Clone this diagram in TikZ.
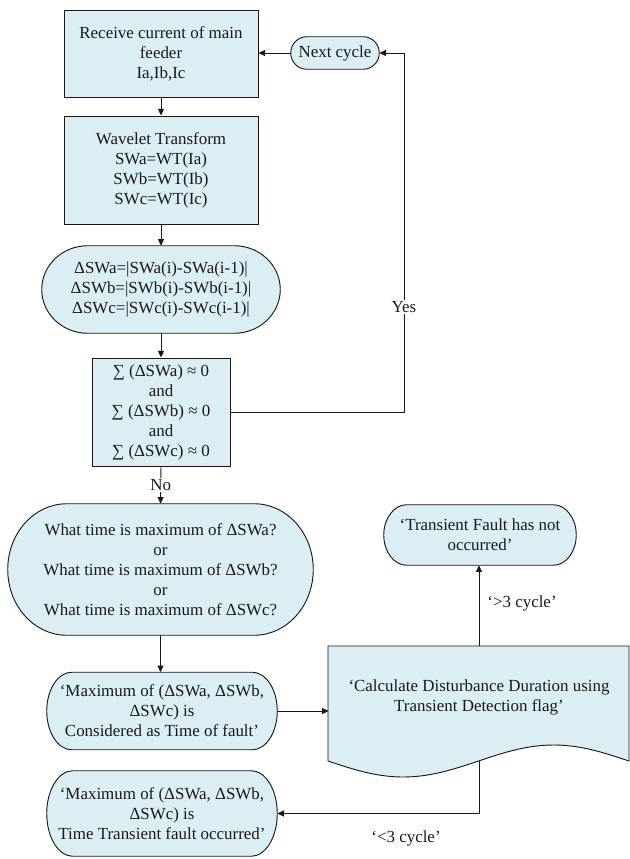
\documentclass[tikz,border=0pt]{standalone}
\usepackage{fontspec}
\setmainfont{Liberation Serif}
\usetikzlibrary{arrows.meta,calc}
\pgfdeclarelayer{bg}
\pgfsetlayers{bg,main}
\definecolor{boxfill}{RGB}{219,238,244}
\definecolor{ink}{RGB}{25,25,25}

% terminator outline with elliptic ends, drawn around a named node
\newcommand\termshape[2]{%
  \path[shapeline] let \p1=(#1.north west), \p2=(#1.south east),
      \n1={0.5*(\y1-\y2)} in
    (\x1+#2*0.75pt,\y1) -- (\x2-#2*0.75pt,\y1)
    arc[start angle=90,end angle=-90,x radius=#2*0.75pt,y radius=\n1]
    -- (\x1+#2*0.75pt,\y2)
    arc[start angle=270,end angle=90,x radius=#2*0.75pt,y radius=\n1]
    -- cycle;}

\tikzset{
  txt/.style={font=\fontsize{12.7}{15}\selectfont, text=ink, align=center, inner sep=0pt},
  procbox/.style={txt, rectangle, draw=ink, fill=boxfill, line width=0.7pt},
  termbox/.style={txt, rectangle},
  shapeline/.style={draw=ink, fill=boxfill, line width=0.7pt},
  arr/.style={draw=ink, line width=0.7pt, -{Triangle[length=5pt,width=4.5pt]}},
  lbl/.style={txt, fill=white, inner sep=1pt},
  freelbl/.style={txt}
}

\begin{document}
\begin{tikzpicture}[x=0.75pt, y=-0.75pt]
\useasboundingbox (0,0) rectangle (629,859);

% process boxes
\node[procbox, minimum width=194*0.75pt, minimum height=87*0.75pt] (box1) at (161,53.5)
  {Receive current of main\\feeder\\Ia,Ib,Ic};
\node[procbox, minimum width=194*0.75pt, minimum height=108*0.75pt] (box2) at (161,170)
  {Wavelet Transform\\SWa=WT(Ia)\\SWb=WT(Ib)\\SWc=WT(Ic)};
\node[procbox, minimum width=138*0.75pt, minimum height=108*0.75pt] (dec) at (161,412)
  {∑ (ΔSWa) ≈ 0\\and\\∑ (ΔSWb) ≈ 0\\and\\∑ (ΔSWc) ≈ 0};

% terminator texts
\node[termbox, minimum width=88*0.75pt, minimum height=32*0.75pt] (next) at (335,53)
  {Next cycle};
\node[termbox, minimum width=238*0.75pt, minimum height=87*0.75pt] (st3) at (161,289.5)
  {ΔSWa=|SWa(i)-SWa(i-1)|\\ΔSWb=|SWb(i)-SWb(i-1)|\\ΔSWc=|SWc(i)-SWc(i-1)|};
\node[termbox, minimum width=305*0.75pt, minimum height=131*0.75pt] (st4) at (160.5,569.5)
  {What time is maximum of ΔSWa?\\or\\What time is maximum of ΔSWb?\\or\\What time is maximum of ΔSWc?};
\node[termbox, minimum width=230*0.75pt, minimum height=77*0.75pt] (st5) at (162,711)
  {‘Maximum of (ΔSWa, ΔSWb,\\ΔSWc) is\\Considered as Time of fault’};
\node[termbox, minimum width=230*0.75pt, minimum height=85*0.75pt] (st6) at (162,813.5)
  {‘Maximum of (ΔSWa, ΔSWb,\\ΔSWc) is\\Time Transient fault occurred’};
\node[termbox, minimum width=192*0.75pt, minimum height=60*0.75pt] (top) at (480,535)
  {‘Transient Fault has not\\occurred’};

% document shape text
\node[termbox, minimum width=300*0.75pt, minimum height=102*0.75pt] (doc) at (479,697)
  {‘Calculate Disturbance Duration using\\Transient Detection flag’};
\coordinate (docb) at (479,761);
\coordinate (ret) at (404,53);

\begin{pgfonlayer}{bg}
  \termshape{next}{16}
  \termshape{st3}{46}
  \termshape{st4}{59}
  \termshape{st5}{25}
  \termshape{st6}{26}
  \termshape{top}{23}
  % document outline with a wavy lower edge
  \path[shapeline] (629,646) -- (629,761)
    -- plot[domain=301:0, samples=80, smooth] ({328+\x},{761+16*sin(1.19601*\x)})
    -- (328,646) -- cycle;
\end{pgfonlayer}

% connectors
\draw[arr] (box1.south) -- (box2.north);
\draw[arr] (box2.south) -- (st3.north);
\draw[arr] (st3.south) -- (dec.north);
\draw[arr] (dec.south) -- node[lbl] (no) {No} (st4.north);
\draw[arr] (st4.south) -- (st4.south |- st5.north);
\draw[arr] (st5.east) -- (st5.east -| doc.west);
\draw[arr] (docb) |- (st6.east);
\draw[arr] (doc.north) -- (doc.north |- top.south);
\draw[arr] (dec.east) -| (ret) -- (next.east);
\draw[arr] (next.west) -- (next.west -| box1.east);

% connector labels
\node[lbl] (yes) at (404,307) {Yes};
\node[freelbl] (gt) at (522,603) {‘>3 cycle’};
\node[freelbl] (lt) at (406,838) {‘<3 cycle’};
\end{tikzpicture}
\end{document}
